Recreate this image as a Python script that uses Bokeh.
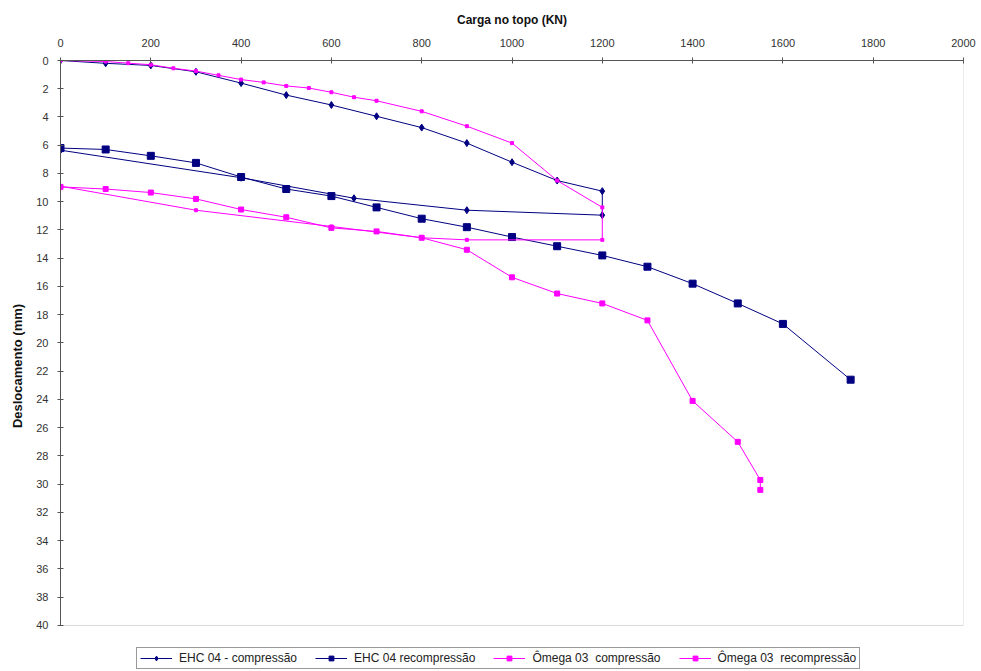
from bokeh.plotting import figure
from bokeh.models import Range1d, Legend, LegendItem, FixedTicker, BoxAnnotation
from bokeh.embed import file_html
from bokeh.resources import INLINE

# ---- data ----
ehc_comp_x = [0, 100, 200, 300, 400, 500, 600, 700, 800, 900, 1000, 1100, 1200, 1200, 900, 650, 400, 0]
ehc_comp_y = [0, 0.2, 0.35, 0.8, 1.6, 2.45, 3.15, 3.95, 4.75, 5.85, 7.2, 8.5, 9.25, 10.95, 10.6, 9.75, 8.3, 6.35]

ehc_rec_x = [0, 100, 200, 300, 400, 500, 600, 700, 800, 900, 1000, 1100, 1200, 1300, 1400, 1500, 1600, 1750]
ehc_rec_y = [6.2, 6.3, 6.75, 7.25, 8.25, 9.1, 9.6, 10.4, 11.2, 11.8, 12.5, 13.15, 13.8, 14.6, 15.8, 17.2, 18.65, 22.6]

om_comp_x = [0, 100, 150, 200, 250, 300, 350, 400, 450, 500, 550, 600, 650, 700, 800, 900, 1000, 1100, 1200,
             1200, 900, 800, 600, 300, 0]
om_comp_y = [0, 0.07, 0.19, 0.3, 0.55, 0.75, 1.05, 1.35, 1.55, 1.8, 1.95, 2.25, 2.6, 2.85, 3.6, 4.65, 5.85, 8.5, 10.4,
             12.7, 12.7, 12.55, 11.75, 10.6, 8.9]

om_rec_x = [0, 100, 200, 300, 400, 500, 600, 700, 800, 900, 1000, 1100, 1200, 1300, 1400, 1500, 1550, 1550]
om_rec_y = [8.95, 9.1, 9.35, 9.8, 10.55, 11.1, 11.85, 12.1, 12.55, 13.4, 15.35, 16.5, 17.2, 18.4, 24.1, 27.0, 29.7, 30.4]

series_labels = ["EHC 04 - compressão", "EHC 04 recompressão", "Ômega 03  compressão", "Ômega 03  recompressão"]
x_ticks = [0, 200, 400, 600, 800, 1000, 1200, 1400, 1600, 1800, 2000]
y_ticks = list(range(0, 41, 2))
x_min, x_max = 0, 2000
y_min, y_max = 0, 40

NAVY = "#000080"
MAG = "#FF00FF"
FONT = "Liberation Sans"

# frame runs to the page bottom; the axis box (0..40) ends at ~625 px, legend sits below it
p = figure(width=981, height=671, output_backend="svg", toolbar_location=None,
           x_range=Range1d(x_min, x_max), y_range=Range1d(43.26, y_min),
           x_axis_location="above", y_axis_location="left",
           min_border_left=60, min_border_right=18, min_border_top=60, min_border_bottom=0)
p.grid.visible = False
p.outline_line_color = None
p.background_fill_color = "white"
p.border_fill_color = "white"

p.add_layout(BoxAnnotation(left=x_min, right=x_max, top=y_min, bottom=y_max,
                           fill_alpha=0, line_color="#808080", line_width=1, level="underlay"))

for ax in (p.xaxis[0], p.yaxis[0]):
    ax.major_label_text_font = FONT
    ax.major_label_text_font_size = "11px"
    ax.major_label_text_color = "#333333"
    ax.axis_label_text_font = FONT
    ax.axis_label_text_font_style = "bold"
    ax.axis_label_text_color = "#111111"
    ax.axis_line_color = "#555555"
    ax.major_tick_line_color = "#555555"
    ax.minor_tick_line_color = None
    ax.major_tick_in = 3
    ax.major_tick_out = 3

p.xaxis[0].ticker = FixedTicker(ticks=x_ticks)
p.yaxis[0].ticker = FixedTicker(ticks=y_ticks)
p.yaxis[0].bounds = (y_min, y_max)
p.xaxis[0].axis_label = "Carga no topo (KN)"
p.yaxis[0].axis_label = "Deslocamento (mm)"
p.xaxis[0].axis_label_text_font_size = "12px"
p.yaxis[0].axis_label_text_font_size = "13px"
p.xaxis[0].major_label_standoff = 11
p.xaxis[0].axis_label_standoff = 9
p.yaxis[0].major_label_standoff = 9
p.yaxis[0].axis_label_standoff = 8

items = []
l1 = p.line(ehc_comp_x, ehc_comp_y, line_color=NAVY, line_width=1)
s1 = p.scatter(ehc_comp_x, ehc_comp_y, marker="diamond", size=7, color=NAVY)
items.append(LegendItem(label=series_labels[0], renderers=[l1, s1]))

l2 = p.line(ehc_rec_x, ehc_rec_y, line_color=NAVY, line_width=1)
s2 = p.scatter(ehc_rec_x, ehc_rec_y, marker="square", size=7, color=NAVY)
items.append(LegendItem(label=series_labels[1], renderers=[l2, s2]))

l3 = p.line(om_comp_x, om_comp_y, line_color=MAG, line_width=1)
s3 = p.scatter(om_comp_x, om_comp_y, marker="square", size=3, color=MAG)
items.append(LegendItem(label=series_labels[2], renderers=[l3, s3]))

l4 = p.line(om_rec_x, om_rec_y, line_color=MAG, line_width=1)
s4 = p.scatter(om_rec_x, om_rec_y, marker="square", size=5, color=MAG)
items.append(LegendItem(label=series_labels[3], renderers=[l4, s4]))

legend = Legend(items=items, orientation="horizontal", location=(76, 2),
                label_text_font=FONT, label_text_font_size="12px", label_text_color="#222222",
                glyph_width=32, glyph_height=12, label_standoff=7, spacing=18,
                padding=3, margin=0, border_line_color="#333333", border_line_width=1,
                background_fill_color="white", background_fill_alpha=1.0,
                label_height=12)
p.add_layout(legend, "center")

open("out.html", "w").write(file_html(p, INLINE))
